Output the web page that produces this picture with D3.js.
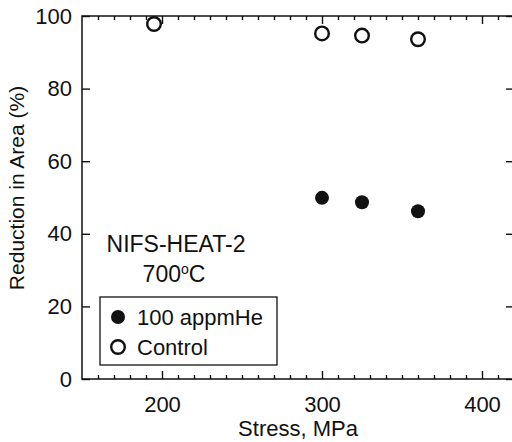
<!DOCTYPE html>
<html>
<head>
<meta charset="utf-8">
<script src="https://cdn.jsdelivr.net/npm/d3@7"></script>
<style>
  body { margin: 0; background: #fff; }
  svg { font-family: 'Liberation Sans', Arial, sans-serif; }
</style>
</head>
<body>
<svg width="512" height="442"></svg>
<script>
// data
var heStress = [300, 325, 360]
var heReduction = [49.9, 48.7, 46.2]
var ctrlStress = [195, 300, 325, 360]
var ctrlReduction = [97.8, 95.2, 94.6, 93.6]
var xMajor = [200, 300, 400]
var yMajor = [0, 20, 40, 60, 80, 100]
var legendLabels = ['100 appmHe', 'Control']

var width = 512
var height = 442
var margin = { top: 16, right: -2, bottom: 63, left: 82 }

var x = d3
  .scaleLinear()
  .domain([150, 420])
  .range([margin.left, width - margin.right])

var y = d3
  .scaleLinear()
  .domain([0, 100])
  .range([height - margin.bottom, margin.top])

var svg = d3.select('svg')

var xMinor = d3.range(160, 420, 10).filter(d => xMajor.indexOf(d) < 0)

function styleAxis(g) {
  g.select('.domain').remove()
  g.selectAll('.tick line').attr('stroke', '#111').attr('stroke-width', 1.4)
  g.selectAll('.tick text').attr('fill', '#111').attr('font-size', 22)
}

// bottom axis, minor then major
svg
  .append('g')
  .attr('transform', `translate(0,${y(0)})`)
  .call(d3.axisBottom(x).tickValues(xMinor).tickSize(-4).tickFormat(''))
  .call(styleAxis)

svg
  .append('g')
  .attr('transform', `translate(0,${y(0)})`)
  .call(d3.axisBottom(x).tickValues(xMajor).tickSize(-8).tickPadding(17))
  .call(styleAxis)

// top axis
svg
  .append('g')
  .attr('transform', `translate(0,${y(100)})`)
  .call(d3.axisTop(x).tickValues(xMinor).tickSize(-4).tickFormat(''))
  .call(styleAxis)

svg
  .append('g')
  .attr('transform', `translate(0,${y(100)})`)
  .call(d3.axisTop(x).tickValues(xMajor).tickSize(-8).tickFormat(''))
  .call(styleAxis)

// left axis
svg
  .append('g')
  .attr('transform', `translate(${x(150)},0)`)
  .call(d3.axisLeft(y).tickValues(yMajor).tickSize(-8).tickPadding(10))
  .call(styleAxis)

// right axis
svg
  .append('g')
  .attr('transform', `translate(${x(420)},0)`)
  .call(d3.axisRight(y).tickValues(yMajor).tickSize(-8).tickFormat(''))
  .call(styleAxis)

// frame
svg
  .append('rect')
  .attr('x', x(150))
  .attr('y', y(100))
  .attr('width', x(420) - x(150))
  .attr('height', y(0) - y(100))
  .attr('fill', 'none')
  .attr('stroke', '#111')
  .attr('stroke-width', 1.5)

// axis titles
svg
  .append('text')
  .attr('x', 298)
  .attr('y', 436)
  .attr('text-anchor', 'middle')
  .attr('font-size', 22)
  .attr('fill', '#111')
  .text('Stress, MPa')

svg
  .append('text')
  .attr('transform', 'translate(24,188) rotate(-90)')
  .attr('text-anchor', 'middle')
  .attr('font-size', 21)
  .attr('fill', '#111')
  .text('Reduction in Area (%)')

// annotation
svg
  .append('text')
  .attr('x', 176)
  .attr('y', 252)
  .attr('text-anchor', 'middle')
  .attr('font-size', 23)
  .attr('fill', '#111')
  .text('NIFS-HEAT-2')

var temp = svg
  .append('text')
  .attr('x', 174)
  .attr('y', 282)
  .attr('text-anchor', 'middle')
  .attr('font-size', 23)
  .attr('fill', '#111')
temp.append('tspan').text('700')
temp.append('tspan').attr('font-size', 14).attr('dy', -8).text('o')
temp.append('tspan').attr('dy', 8).text('C')

// data points
svg
  .append('g')
  .selectAll('circle')
  .data(ctrlStress)
  .enter()
  .append('circle')
  .attr('cx', d => x(d))
  .attr('cy', (d, i) => y(ctrlReduction[i]))
  .attr('r', 6.8)
  .attr('fill', 'none')
  .attr('stroke', '#111')
  .attr('stroke-width', 2.4)

svg
  .append('g')
  .selectAll('circle')
  .data(heStress)
  .enter()
  .append('circle')
  .attr('cx', d => x(d))
  .attr('cy', (d, i) => y(heReduction[i]))
  .attr('r', 7)
  .attr('fill', '#111')

// legend
var legend = svg.append('g')

legend
  .append('rect')
  .attr('x', 100)
  .attr('y', 297)
  .attr('width', 177)
  .attr('height', 68)
  .attr('fill', '#fff')
  .attr('stroke', '#111')
  .attr('stroke-width', 1.3)

legend
  .selectAll('circle')
  .data(legendLabels)
  .enter()
  .append('circle')
  .attr('cx', 118)
  .attr('cy', (d, i) => 317 + i * 30)
  .attr('r', (d, i) => (i === 0 ? 7 : 6.8))
  .attr('fill', (d, i) => (i === 0 ? '#111' : 'none'))
  .attr('stroke', '#111')
  .attr('stroke-width', (d, i) => (i === 0 ? 0 : 2.4))

legend
  .selectAll('text')
  .data(legendLabels)
  .enter()
  .append('text')
  .attr('x', 137)
  .attr('y', (d, i) => 325 + i * 30)
  .attr('font-size', 22)
  .attr('fill', '#111')
  .text(d => d)
</script>
</body>
</html>
